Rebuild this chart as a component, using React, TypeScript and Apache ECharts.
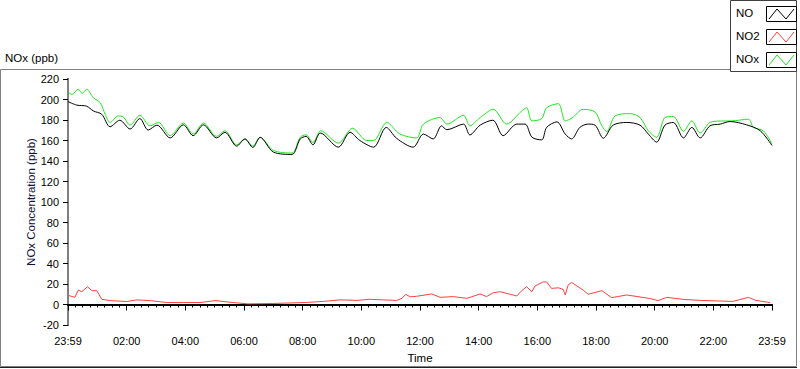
import React, { useEffect, useRef } from "react";
import * as echarts from "echarts";

// Time in minutes since 23:59 of the previous day
const noTimes = [0, 18, 38, 52, 69, 86, 106, 127, 147, 164, 182, 209, 236, 256, 277, 304, 321, 345, 362, 378, 393, 420, 458, 475, 487, 501, 516, 553, 577, 597, 625, 651, 672, 706, 727, 747, 764, 775, 809, 822, 843, 869, 890, 918, 935, 949, 969, 979, 1000, 1017, 1030, 1047, 1064, 1078, 1095, 1115, 1143, 1170, 1187, 1204, 1221, 1238, 1259, 1276, 1293, 1313, 1334, 1354, 1388, 1416, 1440];
const noValues = [198, 194.5, 193.5, 188.8, 185.6, 173.4, 179.8, 171.2, 181.4, 170.2, 175, 162.5, 175.3, 164.7, 175.3, 162.5, 168, 154.5, 161.5, 153.2, 163, 148.7, 146.4, 161.5, 164, 155.8, 167.3, 153.5, 168, 160, 153.5, 172.8, 162.2, 153.5, 166.3, 161.5, 174.3, 170.5, 176, 165.4, 175, 179.8, 164.7, 176, 176, 163.2, 160.6, 172.8, 178.2, 166.3, 161.5, 172.8, 176, 175, 162.2, 175, 177.6, 175, 166.3, 158.4, 175, 177.6, 162.5, 172.8, 162.5, 174.3, 176, 178.5, 175.3, 169.5, 155.1];

const noxTimes = [0, 8, 21, 29, 38, 52, 66, 76, 86, 103, 113, 127, 147, 168, 185, 209, 236, 256, 277, 304, 321, 345, 362, 378, 393, 420, 458, 475, 487, 501, 517, 553, 582, 611, 625, 652, 679, 713, 727, 761, 775, 809, 822, 843, 870, 897, 928, 938, 949, 969, 979, 1003, 1017, 1031, 1054, 1078, 1092, 1102, 1119, 1150, 1170, 1187, 1204, 1221, 1238, 1259, 1276, 1293, 1313, 1334, 1357, 1392, 1402, 1422, 1440];
const noxValues = [207.4, 205, 210, 206, 210, 201.6, 196.8, 185.6, 177.6, 184, 183, 175, 184.6, 174.3, 177.6, 164.7, 177, 166.3, 177, 164, 169.5, 155.8, 161.5, 154.5, 163.2, 150.3, 147.8, 163.2, 165.5, 158, 169.5, 157.4, 172, 160, 160, 177.6, 166.3, 162.5, 176, 182.4, 176, 184.6, 174.3, 182.4, 190.4, 176, 188.8, 192, 179.1, 181.4, 192, 195.9, 179.1, 182, 190.4, 187.8, 174.3, 168.6, 184, 186.2, 182.4, 169.5, 163.2, 182.4, 183.4, 169, 179.1, 167.3, 177.6, 179, 179.1, 180.8, 172.8, 169.5, 156.7];

const no2Times = [2, 14, 21, 28, 40, 49, 59, 69, 86, 120, 141, 168, 202, 236, 270, 301, 338, 352, 368, 419, 488, 522, 556, 591, 618, 645, 672, 683, 691, 700, 713, 744, 761, 788, 816, 843, 856, 870, 884, 918, 928, 938, 949, 955, 972, 979, 989, 1003, 1013, 1017, 1023, 1030, 1054, 1064, 1092, 1112, 1143, 1191, 1207, 1225, 1258, 1293, 1327, 1360, 1392, 1407, 1436];
const no2Values = [8.7, 7, 14, 12.5, 17.3, 13.5, 13.5, 5.1, 3.8, 2.9, 4.5, 3.8, 1.9, 1.9, 1.9, 3.8, 1.9, 1.3, 0.6, 1, 2, 3, 4.5, 4, 5.1, 4.5, 4, 6, 9.9, 7.5, 8, 10.3, 7, 7.7, 6, 10.3, 7.7, 11.5, 12.5, 8.3, 13.5, 17.3, 12.5, 18, 22.1, 22, 15.7, 16.3, 14.7, 9.3, 19, 21.5, 14, 10, 13.5, 6.7, 9.3, 5.8, 3.8, 7, 5, 4, 3.5, 3, 7, 4, 1.9];

const xTickLabels = ["23:59", "02:00", "04:00", "06:00", "08:00", "10:00", "12:00", "14:00", "16:00", "18:00", "20:00", "22:00", "23:59"];
const seriesNames = ["NO", "NO2", "NOx"];
const seriesColors = ["#000000", "#ff4040", "#1ee61e"];

const FONT = "Liberation Sans, Arial, sans-serif";

function pairs(t: number[], v: number[]) {
  return t.map((x, i) => [x, v[i]]);
}

export default function App() {
  const ref = useRef<HTMLDivElement>(null);
  useEffect(() => {
    if (!ref.current) return;
    const chart = echarts.init(ref.current, undefined, { renderer: "svg" });
    const legendItems: any[] = [];
    seriesNames.forEach((name, i) => {
      const y0 = 6 + i * 23;
      legendItems.push({
        type: "text",
        left: 736,
        top: y0 + 1,
        style: { text: name, font: `11.5px ${FONT}`, fill: "#000" },
      });
      legendItems.push({
        type: "rect",
        shape: { x: 766.5, y: y0 + 0.5, width: 30, height: 15 },
        style: { fill: "#fff", stroke: "#000", lineWidth: 1 },
      });
      legendItems.push({
        type: "polyline",
        shape: { points: [[769, y0 + 13], [777, y0 + 3], [786, y0 + 13], [794, y0 + 3]] },
        style: { stroke: seriesColors[i], lineWidth: 1, fill: null },
      });
    });
    chart.setOption({
      animation: false,
      backgroundColor: "#fff",
      textStyle: { fontFamily: FONT },
      grid: { left: 68, right: 28, top: 79, bottom: 40, containLabel: false },
      graphic: [
        {
          type: "rect",
          shape: { x: 0.5, y: 69.5, width: 796, height: 297 },
          style: { fill: null, stroke: "#808080", lineWidth: 1 },
          z: -1,
        },
        {
          type: "line",
          shape: { x1: 0, y1: 367.5, x2: 797, y2: 367.5 },
          style: { stroke: "#202020", lineWidth: 1 },
        },
        {
          type: "text",
          left: 5,
          top: 52,
          style: { text: "NOx (ppb)", font: `11.5px ${FONT}`, fill: "#000" },
        },
        {
          type: "rect",
          shape: { x: 730.5, y: 0.5, width: 66, height: 71 },
          style: { fill: "#fff", stroke: "#404040", lineWidth: 1 },
        },
        ...legendItems,
      ],
      xAxis: [
        {
          type: "value",
          min: 0,
          max: 1440,
          interval: 120,
          name: "Time",
          nameLocation: "middle",
          nameGap: 27,
          nameMoveOverlap: false,
          nameTextStyle: { color: "#000", fontSize: 11.5, fontFamily: FONT },
          axisLine: { show: true, lineStyle: { color: "#808080", width: 2 } },
          axisTick: { show: true, length: 6, lineStyle: { color: "#000" } },
          minorTick: { show: true, splitNumber: 8, length: 3, lineStyle: { color: "#000" } },
          splitLine: { show: false },
          axisLabel: {
            color: "#000",
            fontSize: 11,
            fontFamily: FONT,
            margin: 10,
            formatter: (v: number) => xTickLabels[Math.round(v / 120)] ?? "",
          },
        },
        {
          type: "value",
          position: "top",
          min: 0,
          max: 1440,
          axisLine: { show: true, lineStyle: { color: "#000", width: 2 } },
          axisTick: { show: false },
          axisLabel: { show: false },
          splitLine: { show: false },
        },
      ],
      yAxis: [
        {
          type: "value",
          min: -20,
          max: 220,
          interval: 20,
          name: "NOx Concentration (ppb)",
          nameLocation: "middle",
          nameGap: 31,
          nameMoveOverlap: false,
          nameTextStyle: { color: "#101040", fontSize: 11.5, fontFamily: FONT },
          axisLine: { show: true, lineStyle: { color: "#000", width: 2 } },
          axisTick: { show: true, length: 5, lineStyle: { color: "#000" } },
          splitLine: { show: false },
          axisLabel: { color: "#000", fontSize: 11, fontFamily: FONT, margin: 9 },
        },
        {
          type: "value",
          position: "right",
          min: -20,
          max: 220,
          interval: 20,
          axisLine: { show: true, lineStyle: { color: "#808080", width: 2 } },
          axisTick: { show: false },
          axisLabel: { show: false },
          splitLine: { show: false },
        },
      ],
      series: [
        {
          name: "NO",
          type: "line",
          data: pairs(noTimes, noValues),
          showSymbol: false,
          smooth: 0.3,
          lineStyle: { color: seriesColors[0], width: 1 },
          itemStyle: { color: seriesColors[0] },
          z: 3,
        },
        {
          name: "NO2",
          type: "line",
          data: pairs(no2Times, no2Values),
          showSymbol: false,
          lineStyle: { color: seriesColors[1], width: 1 },
          itemStyle: { color: seriesColors[1] },
        },
        {
          name: "NOx",
          type: "line",
          data: pairs(noxTimes, noxValues),
          showSymbol: false,
          smooth: 0.3,
          lineStyle: { color: seriesColors[2], width: 1 },
          itemStyle: { color: seriesColors[2] },
          z: 2,
        },
      ],
    });
    return () => chart.dispose();
  }, []);
  return <div ref={ref} style={{ width: 800, height: 369, position: "absolute", left: 0, top: 0 }} />;
}
